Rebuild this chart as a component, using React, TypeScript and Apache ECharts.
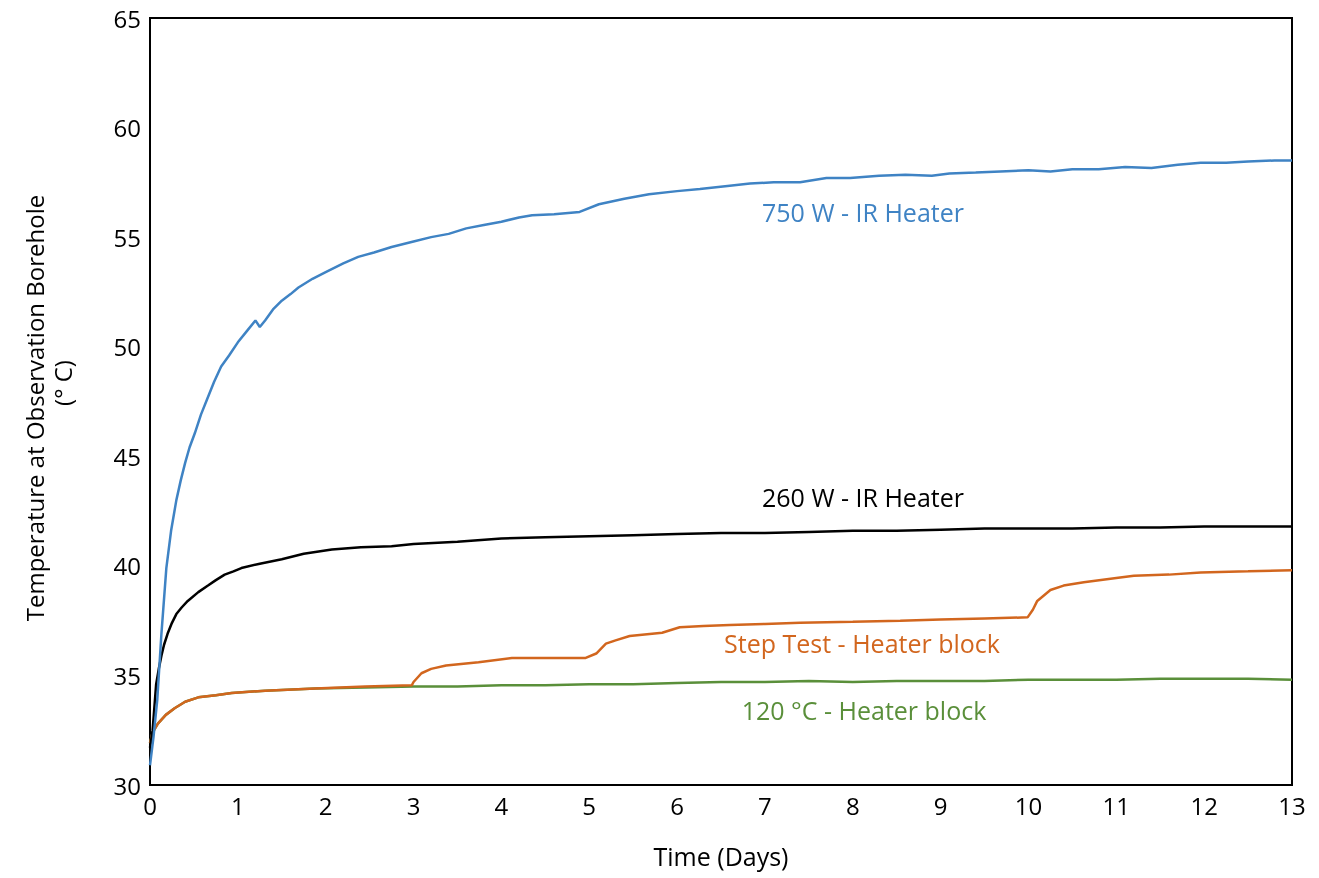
import React, { useEffect, useRef } from "react";
import * as echarts from "echarts";

const xTicks = ["0","1","2","3","4","5","6","7","8","9","10","11","12","13"];
const yTicks = [30, 35, 40, 45, 50, 55, 60, 65];

const ir750: [number, number][] = [
  [0,30.9],[0.04,32.2],[0.083,33.9],[0.13,36.9],[0.186,39.9],[0.24,41.6],[0.30,43.0],[0.35,43.9],[0.4,44.7],[0.45,45.4],[0.51,46.05],[0.58,46.9],[0.65,47.6],[0.73,48.4],[0.81,49.1],[0.9,49.6],[1.0,50.2],[1.1,50.7],[1.2,51.2],[1.25,50.9],[1.31,51.2],[1.4,51.7],[1.5,52.1],[1.6,52.4],[1.69,52.7],[1.85,53.1],[2.0,53.4],[2.2,53.8],[2.37,54.1],[2.55,54.3],[2.75,54.55],[3.0,54.8],[3.2,55.0],[3.4,55.15],[3.6,55.4],[3.8,55.55],[4.0,55.7],[4.2,55.9],[4.35,56.0],[4.6,56.05],[4.89,56.15],[5.11,56.5],[5.4,56.75],[5.68,56.96],[6.0,57.1],[6.26,57.2],[6.6,57.35],[6.83,57.45],[7.1,57.5],[7.4,57.5],[7.7,57.7],[7.97,57.7],[8.3,57.8],[8.6,57.85],[8.9,57.8],[9.1,57.9],[9.4,57.95],[9.68,58.0],[10.0,58.05],[10.25,58.0],[10.5,58.1],[10.8,58.1],[11.1,58.2],[11.4,58.15],[11.7,58.3],[11.96,58.4],[12.25,58.4],[12.5,58.45],[12.8,58.5],[13.0,58.5]
];
const ir260: [number, number][] = [
  [0,31.7],[0.03,32.5],[0.07,34.6],[0.1,35.3],[0.13,35.9],[0.16,36.4],[0.2,36.9],[0.25,37.4],[0.3,37.8],[0.36,38.1],[0.43,38.4],[0.55,38.8],[0.66,39.1],[0.75,39.35],[0.85,39.6],[0.95,39.75],[1.04,39.9],[1.25,40.1],[1.5,40.3],[1.75,40.55],[2.07,40.75],[2.4,40.85],[2.75,40.9],[3.0,41.0],[3.5,41.1],[4.0,41.25],[4.5,41.3],[5.0,41.35],[5.5,41.4],[6.0,41.45],[6.5,41.5],[7.0,41.5],[7.5,41.55],[8.0,41.6],[8.5,41.6],[9.0,41.65],[9.5,41.7],[10.0,41.7],[10.5,41.7],[11.0,41.75],[11.5,41.75],[12.0,41.8],[12.5,41.8],[13.0,41.8]
];
const block120: [number, number][] = [
  [0,31.9],[0.03,32.4],[0.09,32.8],[0.18,33.2],[0.28,33.5],[0.4,33.8],[0.55,34.0],[0.75,34.1],[0.93,34.2],[1.31,34.3],[1.88,34.4],[2.45,34.45],[3.0,34.5],[3.5,34.5],[4.0,34.55],[4.5,34.55],[5.0,34.6],[5.5,34.6],[6.0,34.65],[6.5,34.7],[7.0,34.7],[7.5,34.75],[8.0,34.7],[8.5,34.75],[9.0,34.75],[9.5,34.75],[10.0,34.8],[10.5,34.8],[11.0,34.8],[11.5,34.85],[12.0,34.85],[12.5,34.85],[13.0,34.8]
];
const stepTest: [number, number][] = [
  [0,31.9],[0.03,32.4],[0.09,32.8],[0.18,33.2],[0.28,33.5],[0.4,33.8],[0.55,34.0],[0.75,34.1],[0.93,34.2],[1.31,34.3],[1.88,34.4],[2.45,34.5],[2.98,34.55],[3.0,34.7],[3.09,35.1],[3.2,35.3],[3.37,35.45],[3.74,35.6],[4.12,35.8],[4.5,35.8],[4.96,35.8],[5.08,36.0],[5.19,36.45],[5.3,36.6],[5.46,36.8],[5.83,36.95],[6.03,37.2],[6.3,37.25],[6.6,37.3],[7.0,37.35],[7.4,37.4],[8.0,37.45],[8.54,37.5],[9.0,37.55],[9.5,37.6],[9.99,37.65],[10.05,38.0],[10.1,38.4],[10.25,38.9],[10.4,39.1],[10.63,39.25],[11.0,39.45],[11.2,39.55],[11.6,39.6],[11.96,39.7],[12.5,39.75],[13.0,39.8]
];

const seriesNames = ["750 W - IR Heater", "260 W - IR Heater", "Step Test - Heater block", "120 °C - Heater block"];
const colors = ["#3F83C4", "#000000", "#D2661E", "#5A8F3A"];

const FONT = "Open Sans";

export default function App() {
  const ref = useRef<HTMLDivElement>(null);
  useEffect(() => {
    const chart = echarts.init(ref.current!, null, { renderer: "svg" });
    const datas = [ir750, ir260, stepTest, block120];
    const labelPos: [number, number][] = [[863, 212], [863, 497], [862, 643], [864, 710]];
    chart.setOption({
      animation: false,
      grid: { left: 150, top: 18, right: 27, bottom: 93, show: true, borderColor: "#000", borderWidth: 2, backgroundColor: "transparent" },
      xAxis: {
        type: "value", min: 0, max: 13, interval: 1,
        name: "Time (Days)", nameLocation: "middle", nameGap: 58,
        nameTextStyle: { fontFamily: FONT, fontSize: 25, color: "#000" },
        axisLine: { show: true, lineStyle: { color: "#000", width: 2 } },
        axisTick: { show: false },
        splitLine: { show: false },
        axisLabel: { fontFamily: FONT, fontSize: 24, color: "#000", margin: 8, formatter: (v: number) => xTicks[Math.round(v)] ?? "" },
      },
      yAxis: {
        type: "value", min: 30, max: 65, interval: 5,
        axisLine: { show: true, lineStyle: { color: "#000", width: 2 } },
        axisTick: { show: false },
        splitLine: { show: false },
        axisLabel: { fontFamily: FONT, fontSize: 24, color: "#000", margin: 9, formatter: (v: number) => (yTicks.includes(v) ? String(v) : "") },
      },
      graphic: [
        {
          type: "text", x: 34, y: 408, rotation: Math.PI / 2,
          style: { text: "Temperature at Observation Borehole", fontFamily: FONT, fontSize: 24, fill: "#000", align: "center", verticalAlign: "middle" },
        },
        {
          type: "text", x: 62, y: 383, rotation: Math.PI / 2,
          style: { text: "(° C)", fontFamily: FONT, fontSize: 24, fill: "#000", align: "center", verticalAlign: "middle" },
        },
        ...seriesNames.map((n, i) => ({
          type: "text", x: labelPos[i][0], y: labelPos[i][1],
          style: { text: n, fontFamily: FONT, fontSize: 25, fill: colors[i], align: "center", verticalAlign: "middle" },
        })),
      ],
      series: datas.map((d, i) => ({
        type: "line", name: seriesNames[i], data: d, showSymbol: false, symbol: "none",
        lineStyle: { color: colors[i], width: 2.5 }, z: 10 - i,
      })),
    });
    return () => chart.dispose();
  }, []);
  return <div ref={ref} style={{ position: "fixed", left: 0, top: 0, width: 1319, height: 878 }} />;
}
